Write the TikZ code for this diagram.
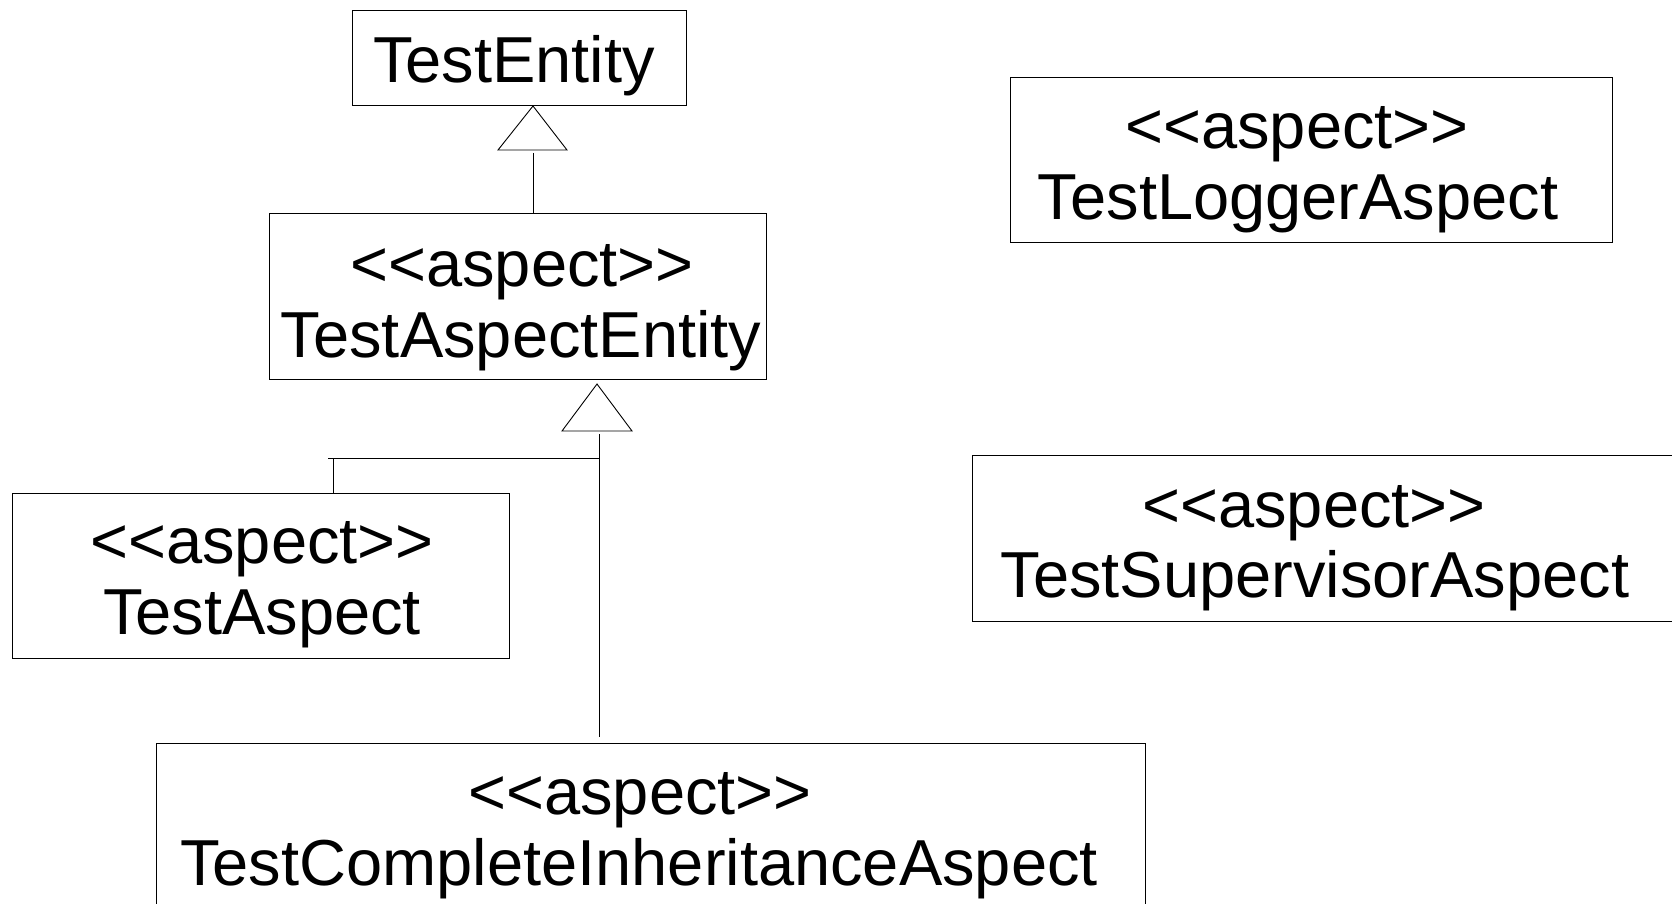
\documentclass[tikz,border=0pt]{standalone}
\usepackage{fontspec}
% plain family (no TeX ligature mapping, so << and >> stay as typed)
\newfontfamily\umlfont{Liberation Sans}
\begin{document}
\begin{tikzpicture}[x=1pt,y=-1pt,
  umlbox/.style={draw, line width=1pt, inner sep=0pt, anchor=north west},
  umltext/.style={anchor=base, inner sep=0pt, font=\umlfont\fontsize{65}{71}\selectfont},
  gentri/.style={draw, line width=0.9pt, fill=white, line join=miter},
  link/.style={draw, line width=0.9pt}]
\useasboundingbox (0,0) rectangle (1672,904);

% class boxes
\node[umlbox, minimum width=334pt, minimum height=95pt]  (entity)     at (352,10)  {};
\node[umlbox, minimum width=497pt, minimum height=166pt] (aspentity)  at (269,213) {};
\node[umlbox, minimum width=497pt, minimum height=165pt] (testaspect) at (12,493)  {};
\node[umlbox, minimum width=602pt, minimum height=165pt] (logger)     at (1010,77) {};
\node[umlbox, minimum width=800pt, minimum height=166pt] (supervisor) at (972,455) {};
\node[umlbox, minimum width=989pt, minimum height=250pt] (complete)   at (156,743) {};

% class names
\node[umltext] (entity-n)     at (514,83)   {TestEntity};
\node[umltext] (aspentity-s)  at (522,286)  {<<aspect>>};
\node[umltext] (aspentity-n)  at (521,357)  {TestAspectEntity};
\node[umltext] (testaspect-s) at (262,563)  {<<aspect>>};
\node[umltext] (testaspect-n) at (262,634)  {TestAspect};
\node[umltext] (logger-s)     at (1297,149) {<<aspect>>};
\node[umltext] (logger-n)     at (1298,219) {TestLoggerAspect};
\node[umltext] (supervisor-s) at (1314,527) {<<aspect>>};
\node[umltext] (supervisor-n) at (1315,597) {TestSupervisorAspect};
\node[umltext] (complete-s)   at (640,814)  {<<aspect>>};
\node[umltext] (complete-n)   at (639,885)  {TestCompleteInheritanceAspect};

% generalization: TestAspectEntity -> TestEntity
\coordinate (g1tip)  at (entity.south -| 533,0);
\coordinate (g1tail) at (533,153);
\path[gentri] (g1tip) -- (498,150) -- (567,150) -- cycle;
\draw[link] (g1tail) -- (aspentity.north -| g1tail);

% generalization: TestAspect, TestCompleteInheritanceAspect -> TestAspectEntity
\coordinate (g2tip)  at (597,384);
\coordinate (g2tail) at (599,434);
\coordinate (g2join) at (599,458);
\coordinate (g2left) at (328,458);
\coordinate (g2drop) at (333,458);
\coordinate (g2end)  at ([yshift=6pt]complete.north -| g2tail);
\path[gentri] (g2tip) -- (562,431) -- (632,431) -- cycle;
\draw[link] (g2tail) -- (g2end);
\draw[link] (g2left) -- (g2join);
\draw[link] (g2drop) -- (testaspect.north -| g2drop);
\end{tikzpicture}
\end{document}
